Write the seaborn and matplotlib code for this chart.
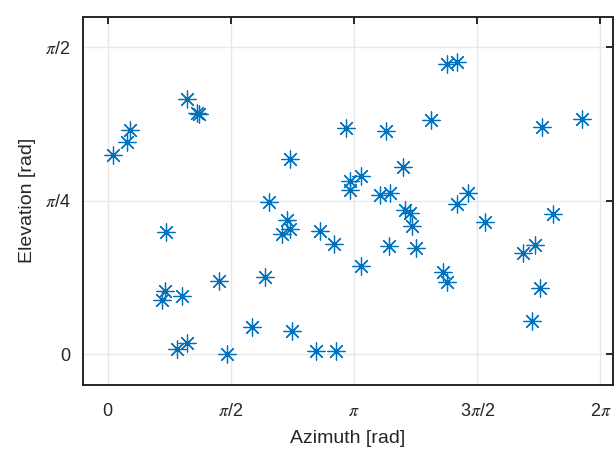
import numpy as np
import pandas as pd
import seaborn as sns
import matplotlib.pyplot as plt

# azimuth / elevation samples (rad)
AZIMUTH = [0.064, 0.246, 0.288, 1.007, 1.142, 1.164, 2.327, 3.046, 3.088, 3.088,
           3.225, 2.052, 4.328, 4.456, 3.547, 4.124, 5.544, 6.049, 3.760, 3.479,
           3.598, 4.596, 4.452, 0.743, 2.294, 2.230, 2.332, 2.706, 2.884, 1.415,
           2.005, 0.734, 0.692, 0.951, 1.839, 2.349, 0.887, 1.007, 1.529, 2.659,
           2.910, 3.789, 3.853, 3.882, 3.589, 3.933, 3.232, 4.270, 4.321, 4.813,
           5.684, 5.455, 5.302, 5.510, 5.412]
ELEVATION = [1.021, 1.084, 1.148, 1.304, 1.235, 1.231, 0.997, 1.158, 0.884, 0.841,
             0.913, 0.779, 1.487, 1.496, 1.140, 1.199, 1.161, 1.202, 0.958, 0.816,
             0.825, 0.825, 0.770, 0.625, 0.688, 0.615, 0.642, 0.628, 0.564, 0.372,
             0.394, 0.324, 0.278, 0.295, 0.141, 0.119, 0.027, 0.056, 0.002, 0.017,
             0.017, 0.736, 0.722, 0.657, 0.551, 0.543, 0.452, 0.418, 0.367, 0.678,
             0.715, 0.560, 0.517, 0.341, 0.167]

X_TICKS = [0, np.pi / 2, np.pi, 3 * np.pi / 2, 2 * np.pi]
X_LABELS = ["0", r"$\pi$/2", r"$\pi$", r"3$\pi$/2", r"2$\pi$"]
Y_TICKS = [0, np.pi / 4, np.pi / 2]
Y_LABELS = ["0", r"$\pi$/4", r"$\pi$/2"]

sns.set_style("white")
plt.rcParams["font.family"] = ["Liberation Sans", "DejaVu Sans"]
plt.rcParams["mathtext.fontset"] = "stix"

df = pd.DataFrame({"az": AZIMUTH, "el": ELEVATION})

fig = plt.figure(figsize=(6.14, 4.49), dpi=100)
ax = fig.add_axes([0.135, 0.143, 0.863, 0.820])

sns.scatterplot(data=df, x="az", y="el", ax=ax, marker=(8, 2, 0), s=150,
                color="#0072BD", edgecolor="#0072BD", linewidth=0.9, zorder=3)

ax.set_xlim(-0.1 * np.pi, 2.05 * np.pi)
ax.set_ylim(-0.05 * np.pi, 0.55 * np.pi)
ax.set_xticks(X_TICKS)
ax.set_xticklabels(X_LABELS)
ax.set_yticks(Y_TICKS)
ax.set_yticklabels(Y_LABELS)

ax.grid(True, color="#e8e8e8", linewidth=1.0, zorder=0)
ax.set_axisbelow(True)
for side in ax.spines.values():
    side.set_color("#262626")
    side.set_linewidth(1.4)

ax.tick_params(axis="both", direction="in", length=5, width=1.4, color="#262626",
               labelsize=13, labelcolor="#262626", top=True, right=True)
ax.tick_params(axis="x", pad=13)
ax.tick_params(axis="y", pad=9)

ax.set_xlabel("Azimuth [rad]", fontsize=14, color="#262626", labelpad=7)
ax.set_ylabel("Elevation [rad]", fontsize=14, color="#262626", labelpad=6)

fig.savefig("out.png", dpi=100)
